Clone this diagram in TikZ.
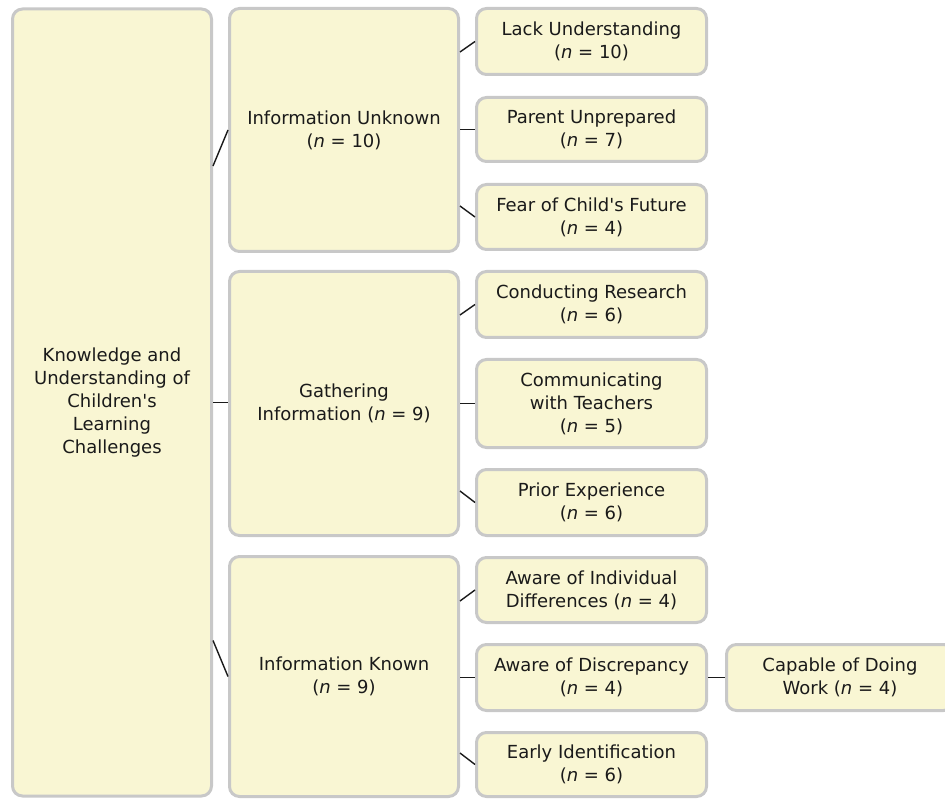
\documentclass[tikz,border=0pt]{standalone}
\usepackage{fontspec}
\setmainfont{DejaVu Sans}[Ligatures=TeXOff]
\definecolor{boxfill}{HTML}{F9F6D3}
\definecolor{boxline}{HTML}{C8C8C8}
\definecolor{txt}{HTML}{1A1A1A}
\begin{document}
\begin{tikzpicture}[x=1pt,y=-1pt,
  box/.style={draw=boxline, fill=boxfill, line width=3pt, rounded corners=10pt,
    align=center, text=txt, inner sep=0pt,
    font=\fontsize{18}{23}\selectfont},
  conn/.style={draw=txt, line width=1.4pt}]
\useasboundingbox (0,0) rectangle (945,799);
% root
\node[box, minimum width=199pt, minimum height=787pt] (root) at (112,402.5)
  {Knowledge and\\Understanding of\\Children's\\Learning\\Challenges};
% level 2
\node[box, minimum width=229pt, minimum height=243pt] (l2a) at (344,130)
  {Information Unknown\\(\textit{n} = 10)};
\node[box, minimum width=229pt, minimum height=264pt] (l2b) at (344,403.5)
  {Gathering\\Information (\textit{n} = 9)};
\node[box, minimum width=229pt, minimum height=240pt] (l2c) at (344,676.5)
  {Information Known\\(\textit{n} = 9)};
% level 3
\node[box, minimum width=230pt, minimum height=66pt] (a1) at (591.5,41.5)
  {Lack Understanding\\(\textit{n} = 10)};
\node[box, minimum width=230pt, minimum height=64pt] (a2) at (591.5,129.5)
  {Parent Unprepared\\(\textit{n} = 7)};
\node[box, minimum width=230pt, minimum height=65pt] (a3) at (591.5,217)
  {Fear of Child's Future\\(\textit{n} = 4)};
\node[box, minimum width=230pt, minimum height=66pt] (b1) at (591.5,304.5)
  {Conducting Research\\(\textit{n} = 6)};
\node[box, minimum width=230pt, minimum height=88pt] (b2) at (591.5,403.5)
  {Communicating\\with Teachers\\(\textit{n} = 5)};
\node[box, minimum width=230pt, minimum height=66pt] (b3) at (591.5,502.5)
  {Prior Experience\\(\textit{n} = 6)};
\node[box, minimum width=230pt, minimum height=65pt] (c1) at (591.5,590)
  {Aware of Individual\\Differences (\textit{n} = 4)};
\node[box, minimum width=230pt, minimum height=66pt] (c2) at (591.5,677.5)
  {Aware of Discrepancy\\(\textit{n} = 4)};
\node[box, minimum width=230pt, minimum height=64pt] (c3) at (591.5,764.5)
  {Early Identification\\(\textit{n} = 6)};
% level 4
\node[box, minimum width=227pt, minimum height=66pt] (d1) at (840,677.5)
  {Capable of Doing\\Work (\textit{n} = 4)};
% connectors root -> level 2
\draw[conn] ([yshift=236.5pt]root.east) -- (l2a.west);
\draw[conn] (root.east) -- (root.east -| l2b.west);
\draw[conn] ([yshift=-238pt]root.east) -- (l2c.west);
% level 2 -> level 3
\draw[conn] ([yshift=78pt]l2a.east) -- (a1.west);
\draw[conn] (l2a.east |- a2.west) -- (a2.west);
\draw[conn] ([yshift=-76pt]l2a.east) -- (a3.west);
\draw[conn] ([yshift=88.5pt]l2b.east) -- (b1.west);
\draw[conn] (l2b.east) -- (b2.west);
\draw[conn] ([yshift=-87.5pt]l2b.east) -- (b3.west);
\draw[conn] ([yshift=75.5pt]l2c.east) -- (c1.west);
\draw[conn] (l2c.east |- c2.west) -- (c2.west);
\draw[conn] ([yshift=-76.5pt]l2c.east) -- (c3.west);
% level 3 -> level 4
\draw[conn] (c2.east) -- (d1.west);
\end{tikzpicture}
\end{document}
